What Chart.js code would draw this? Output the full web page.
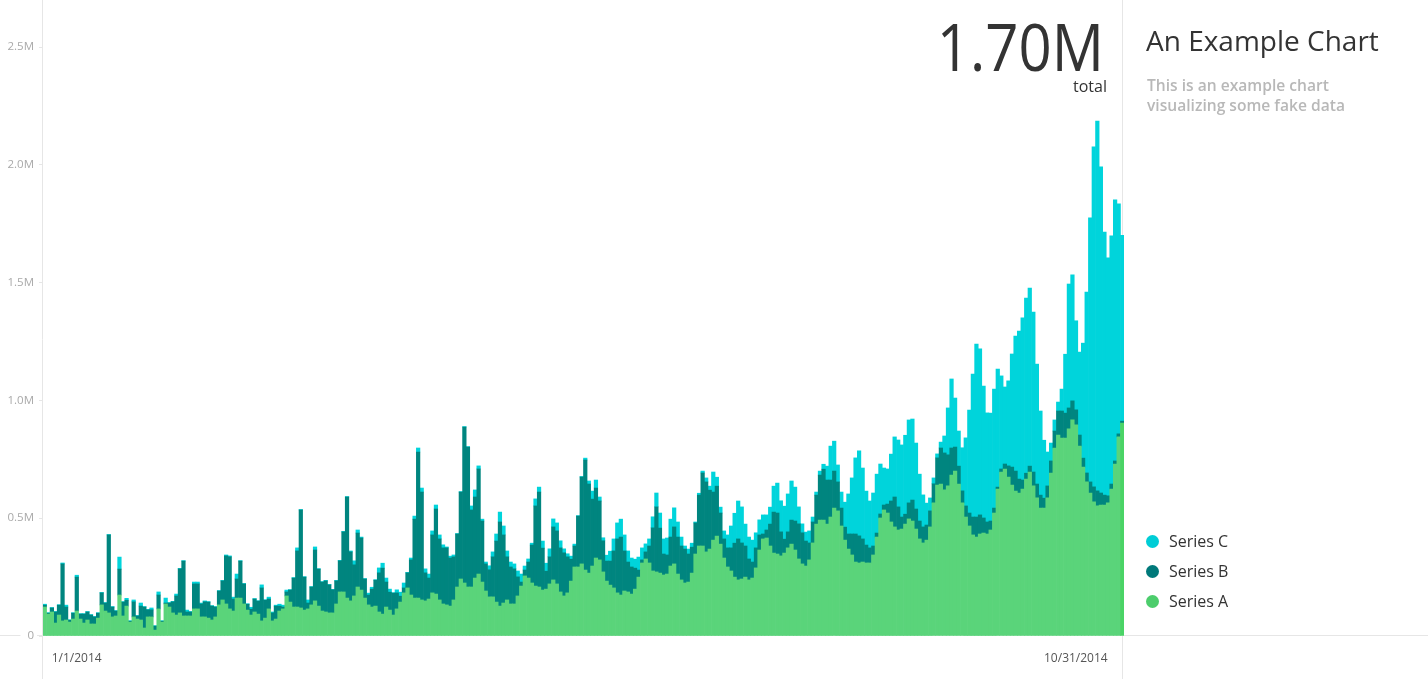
<!DOCTYPE html>
<html>
<head>
<meta charset="utf-8">
<script src="https://cdn.jsdelivr.net/npm/chart.js@4.4.1/dist/chart.umd.min.js"></script>
<style>
  html, body { margin: 0; padding: 0; background: #fff; overflow: hidden; }
  #wrap { position: relative; width: 1428px; height: 679px; font-family: 'Open Sans', sans-serif; }
  #c { position: absolute; left: 0; top: 0; }
  .abs { position: absolute; white-space: nowrap; }
  #big { right: 324px; top: 12px; font-size: 66px; line-height: 66px; color: #333; transform: scaleX(0.88); transform-origin: right center; }
  #bigSub { right: 321px; top: 77.5px; font-size: 16px; line-height: 16px; color: #333; }
  #title { left: 1146px; top: 25.8px; font-size: 28px; line-height: 28px; color: #333; }
  #subtitle { left: 1147px; top: 75px; font-size: 15.6px; line-height: 20px; color: #b8b8b8; font-weight: 600; white-space: normal; width: 230px; }
  .lg-dot { position: absolute; width: 13px; height: 13px; border-radius: 50%; }
  .lg-txt { position: absolute; font-size: 16px; line-height: 16px; color: #333; white-space: nowrap; }
</style>
</head>
<body>
<div id="wrap">
  <canvas id="c" width="1428" height="679"></canvas>
  <div id="big" class="abs"></div>
  <div id="bigSub" class="abs">total</div>
  <div id="title" class="abs">An Example Chart</div>
  <div id="subtitle" class="abs">This is an example chart<br>visualizing some fake data</div>
  <div id="legend"></div>
</div>
<script>
// ---- data (values in thousands) ----
const startDate = [2014, 1, 1];
const dayCount = 304;
const categories = [];
for (let i = 0; i < dayCount; i++) {
  const d = new Date(Date.UTC(startDate[0], startDate[1] - 1, startDate[2] + i));
  categories.push((d.getUTCMonth() + 1) + '/' + d.getUTCDate() + '/' + d.getUTCFullYear());
}

const seriesA = [123,93,102,55,89,64,68,59,72,106,
72,55,68,51,51,76,132,106,98,81,
85,174,85,127,59,81,72,68,34,81,
81,25,115,59,136,123,98,89,98,85,
85,85,115,115,81,81,76,68,81,132,
153,136,115,106,161,
161,136,110,89,102,93,64,76,115,64,
72,106,115,170,144,123,123,119,110,115,
132,149,127,106,102,98,98,136,187,187,
161,149,170,208,195,161,132,123,127,102,
93,123,110,89,115,144,183,204,174,161,
161,153,149,157,183,
178,153,136,132,127,153,208,242,225,208,
208,246,263,229,191,166,166,144,127,140,
153,136,136,170,212,255,246,225,212,208,
195,199,221,238,221,187,170,183,233,293,
293,306,280,267,297,331,323,272,233,216,
204,183,174,191,
187,178,199,250,310,327,310,276,272,267,
259,263,297,306,263,238,225,229,267,348,
382,382,357,369,407,424,390,331,293,276,
250,238,242,250,238,246,289,365,412,416,
382,352,348,340,352,374,390,365,327,306,
297,323,395,475,492,492,
475,505,543,531,467,407,369,344,314,310,
314,310,310,344,420,501,535,522,484,463,
450,454,475,497,488,454,412,395,407,463,
565,641,645,620,637,683,700,645,565,505,
467,429,420,
433,437,433,450,522,624,696,709,675,641,
615,607,624,666,696,637,586,543,543,586,
692,798,853,840,840,879,917,896,806,717,
654,607,569,552,556,556,565,624,730,845,
904];

const seriesB = [8,4,17,47,42,242,55,8,25,144,
21,38,34,38,30,21,51,34,331,42,
21,110,59,25,4,64,13,59,89,30,
30,17,59,4,4,17,47,81,187,233,
17,17,106,106,55,64,68,59,42,59,
81,204,221,51,81,
157,85,25,25,55,55,140,76,42,34,
55,21,8,17,51,123,238,416,140,25,
76,216,157,123,132,119,98,98,132,255,
429,208,132,229,221,81,42,76,110,166,
195,106,76,93,68,25,21,64,149,335,
620,458,119,89,246,
361,259,238,242,204,183,225,369,662,594,
327,344,446,259,115,115,170,259,357,289,
183,157,149,81,17,25,68,161,340,403,
178,76,115,225,225,187,183,153,93,89,
216,369,467,378,284,297,250,132,85,102,
157,229,246,170,
127,115,89,30,13,30,72,183,276,191,
89,81,123,157,157,144,144,119,110,132,
216,310,297,250,204,212,132,81,81,98,
144,174,153,132,89,68,85,64,21,34,
93,174,174,102,59,68,102,123,149,132,
106,72,89,123,191,216,
187,157,157,123,76,55,64,89,119,115,
98,76,64,38,17,17,21,38,89,127,
98,51,42,68,89,85,76,68,64,68,
81,115,153,157,132,115,102,76,51,47,
55,76,85,
81,64,51,38,21,8,13,21,47,76,
85,59,38,25,25,59,59,55,42,51,
51,72,102,115,106,89,81,64,47,38,
38,47,64,64,51,42,30,21,13,13,
8];

const seriesC = [4,2,2,2,2,4,8,2,2,8,
2,2,2,2,2,2,2,2,2,2,
2,51,2,8,2,8,2,13,2,2,
8,2,13,2,21,2,2,8,2,2,
8,2,8,8,4,4,2,2,2,2,
2,4,4,8,21,
2,2,2,8,2,2,13,2,8,4,
4,8,8,8,2,2,13,2,2,13,
2,13,2,2,2,2,2,2,2,2,
2,4,17,13,4,2,8,8,2,21,
21,17,13,2,13,17,21,2,8,13,
17,17,17,17,17,
17,17,13,4,8,8,2,2,2,2,
17,30,13,8,8,17,21,30,42,38,
25,21,21,25,34,17,13,8,30,21,
30,34,34,34,34,30,17,13,13,8,
2,2,8,13,34,34,17,13,25,42,
51,68,76,68,
47,38,38,55,51,34,30,47,59,64,
64,72,76,81,64,38,13,21,17,4,
8,8,17,17,85,38,25,34,55,93,
127,161,153,93,93,93,64,64,81,64,
72,110,127,132,140,161,166,144,72,38,
38,51,21,13,17,21,
59,144,127,72,68,106,170,238,323,361,
301,229,199,225,250,212,157,149,199,255,
284,306,335,352,344,280,199,136,93,55,
25,17,25,72,199,293,208,149,183,289,
437,607,734,
705,560,463,458,505,501,395,327,361,480,
573,628,688,743,756,679,509,357,246,144,
76,47,38,93,250,526,535,378,352,488,
768,1121,1443,1570,1384,1116,1010,1053,1108,976,
789];

const yTickLabels = ['0', '0.5M', '1.0M', '1.5M', '2.0M', '2.5M'];
const xTickLabels = [categories[0], categories[categories.length - 1]];
const seriesNames = ['Series A', 'Series B', 'Series C'];

// ---- styles ----
const barColors = ['#5ad47a', '#00857f', '#00d4db'];
const activeColorA = '#4bd466';
const legendColors = ['#4ccd6c', '#00797a', '#00cdd6'];
const lineColor = '#e6e6e6';
const lastIdx = seriesA.length - 1;

Chart.defaults.font.family = "'Open Sans', sans-serif";

const framePlugin = {
  id: 'frame',
  beforeDraw(ch) {
    const { ctx, chartArea: a, width, height } = ch;
    ctx.save();
    ctx.strokeStyle = lineColor;
    ctx.lineWidth = 1;
    ctx.beginPath();
    ctx.moveTo(0, a.bottom - 0.5); ctx.lineTo(width, a.bottom - 0.5);
    ctx.moveTo(a.left - 0.5, 0); ctx.lineTo(a.left - 0.5, height);
    ctx.moveTo(a.right - 1.5, 0); ctx.lineTo(a.right - 1.5, height);
    ctx.stroke();
    ctx.restore();
  },
  afterDraw(ch) {
    const { ctx, chartArea: a } = ch;
    ctx.save();
    ctx.font = "12px 'Open Sans', sans-serif";
    ctx.fillStyle = '#555';
    ctx.textBaseline = 'alphabetic';
    ctx.textAlign = 'left';
    ctx.fillText(xTickLabels[0], a.left + 8.7, a.bottom + 25.7);
    ctx.textAlign = 'right';
    ctx.fillText(xTickLabels[1], a.right - 16.3, a.bottom + 25.7);
    ctx.restore();
  }
};

const chart = new Chart(document.getElementById('c'), {
  type: 'bar',
  data: {
    labels: categories,
    datasets: [
      { label: seriesNames[0], data: seriesA, stack: 's',
        backgroundColor: (c) => c.dataIndex === lastIdx ? activeColorA : barColors[0] },
      { label: seriesNames[1], data: seriesB, stack: 's', backgroundColor: barColors[1] },
      { label: seriesNames[2], data: seriesC, stack: 's', backgroundColor: barColors[2] }
    ]
  },
  options: {
    responsive: false,
    animation: false,
    datasets: { bar: { barPercentage: 1, categoryPercentage: 1, borderWidth: 0 } },
    layout: { padding: { left: 0, right: 304, top: 47, bottom: 0 } },
    plugins: { legend: { display: false }, tooltip: { enabled: false } },
    scales: {
      x: {
        stacked: true,
        grid: { display: false },
        border: { display: false },
        ticks: { display: false },
        afterFit(s) { s.height = 43; }
      },
      y: {
        stacked: true,
        min: 0, max: 2500,
        border: { display: false },
        grid: { drawOnChartArea: false, drawTicks: true, tickLength: 4, color: lineColor },
        ticks: {
          stepSize: 500, padding: 5, color: '#a9a9a9', font: { size: 11.5 },
          callback: (v, i) => yTickLabels[i],
          showLabelBackdrop: true, backdropColor: '#ffffff',
          backdropPadding: { left: 7, right: 3, top: 2, bottom: 2 }
        },
        afterFit(s) { s.width = 43; }
      }
    }
  },
  plugins: [framePlugin]
});

// big number from the last day's total
const lastTotal = seriesA[lastIdx] + seriesB[lastIdx] + seriesC[lastIdx];
document.getElementById('big').textContent = (lastTotal / 1000).toFixed(2) + 'M';

// legend built from datasets (reversed: C, B, A)
const lg = document.getElementById('legend');
const centers = [541.7, 571.7, 601.7];
chart.data.datasets.slice().reverse().forEach((ds, k) => {
  const origIdx = chart.data.datasets.indexOf(ds);
  const dot = document.createElement('div');
  dot.className = 'lg-dot';
  dot.style.left = '1145.8px';
  dot.style.top = (centers[k] - 6.5) + 'px';
  dot.style.background = legendColors[origIdx];
  const t = document.createElement('div');
  t.className = 'lg-txt';
  t.style.left = '1169px';
  t.style.top = (centers[k] + 5.6 - 14.2) + 'px';
  t.textContent = ds.label;
  lg.appendChild(dot);
  lg.appendChild(t);
});
</script>
</body>
</html>
